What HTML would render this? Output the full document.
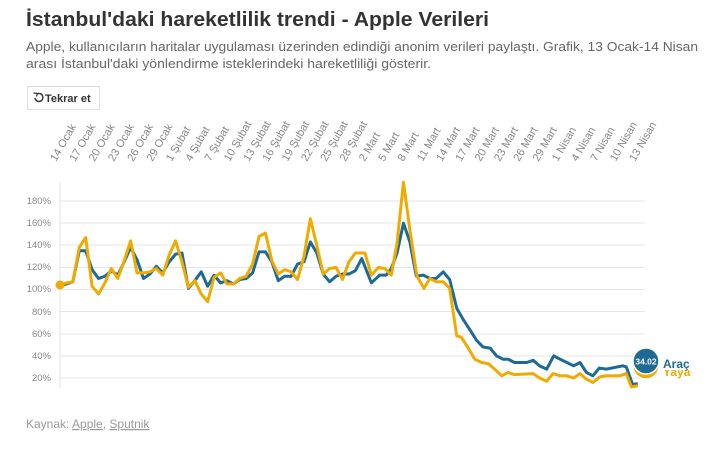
<!DOCTYPE html>
<html><head><meta charset="utf-8"><style>
html,body{margin:0;padding:0;background:#fff;}
svg{display:block;font-family:"Liberation Sans",sans-serif;}
</style></head><body>
<svg width="725" height="459" viewBox="0 0 725 459">
<text x="26" y="26" font-size="20" font-weight="bold" fill="#333" textLength="463" lengthAdjust="spacingAndGlyphs">İstanbul'daki hareketlilik trendi - Apple Verileri</text>
<text x="26" y="51" font-size="13" fill="#666" textLength="672" lengthAdjust="spacingAndGlyphs">Apple, kullanıcıların haritalar uygulaması üzerinden edindiği anonim verileri paylaştı. Grafik, 13 Ocak-14 Nisan</text>
<text x="26" y="68" font-size="13" fill="#666" textLength="405" lengthAdjust="spacingAndGlyphs">arası İstanbul'daki yönlendirme isteklerindeki hareketliliği gösterir.</text>
<rect x="27.5" y="86.5" width="72" height="23" fill="#fff" stroke="#ddd"/>
<path d="M37 94 A4 4 0 1 1 35 98" fill="none" stroke="#333" stroke-width="1.4"/>
<path d="M33.5 93 L37.5 93.5 L36.5 96.5" fill="none" stroke="#333" stroke-width="1.2"/>
<text x="45" y="102" font-size="11" font-weight="bold" fill="#333">Tekrar et</text>

<g stroke="#e6e6e6" stroke-width="1">
<line x1="60" x2="645" y1="201" y2="201"/><line x1="60" x2="645" y1="223" y2="223"/>
<line x1="60" x2="645" y1="245" y2="245"/><line x1="60" x2="645" y1="267.5" y2="267.5"/>
<line x1="60" x2="645" y1="289.5" y2="289.5"/><line x1="60" x2="645" y1="311.5" y2="311.5"/>
<line x1="60" x2="645" y1="334" y2="334"/><line x1="60" x2="645" y1="356" y2="356"/>
<line x1="60" x2="645" y1="378" y2="378"/>
<line x1="60" x2="60" y1="182" y2="388"/>
</g>
<g font-size="9.5" fill="#888" text-anchor="end">
<text x="51" y="204">180%</text><text x="51" y="226">160%</text><text x="51" y="248">140%</text>
<text x="51" y="270">120%</text><text x="51" y="292">100%</text><text x="51" y="315">80%</text>
<text x="51" y="337">60%</text><text x="51" y="359">40%</text><text x="51" y="381">20%</text>
</g>
<g font-size="11" fill="#888">
<text transform="translate(56,162) rotate(-60)">14 Ocak</text>
<text transform="translate(75.3,162) rotate(-60)">17 Ocak</text>
<text transform="translate(94.6,162) rotate(-60)">20 Ocak</text>
<text transform="translate(113.9,162) rotate(-60)">23 Ocak</text>
<text transform="translate(133.2,162) rotate(-60)">26 Ocak</text>
<text transform="translate(152.5,162) rotate(-60)">29 Ocak</text>
<text transform="translate(171.8,162) rotate(-60)">1 Şubat</text>
<text transform="translate(191.1,162) rotate(-60)">4 Şubat</text>
<text transform="translate(210.4,162) rotate(-60)">7 Şubat</text>
<text transform="translate(229.7,162) rotate(-60)">10 Şubat</text>
<text transform="translate(249,162) rotate(-60)">13 Şubat</text>
<text transform="translate(268.3,162) rotate(-60)">16 Şubat</text>
<text transform="translate(287.6,162) rotate(-60)">19 Şubat</text>
<text transform="translate(306.9,162) rotate(-60)">22 Şubat</text>
<text transform="translate(326.2,162) rotate(-60)">25 Şubat</text>
<text transform="translate(345.5,162) rotate(-60)">28 Şubat</text>
<text transform="translate(364.8,162) rotate(-60)">2 Mart</text>
<text transform="translate(384.1,162) rotate(-60)">5 Mart</text>
<text transform="translate(403.4,162) rotate(-60)">8 Mart</text>
<text transform="translate(422.7,162) rotate(-60)">11 Mart</text>
<text transform="translate(442,162) rotate(-60)">14 Mart</text>
<text transform="translate(461.3,162) rotate(-60)">17 Mart</text>
<text transform="translate(480.6,162) rotate(-60)">20 Mart</text>
<text transform="translate(499.9,162) rotate(-60)">23 Mart</text>
<text transform="translate(519.2,162) rotate(-60)">26 Mart</text>
<text transform="translate(538.5,162) rotate(-60)">29 Mart</text>
<text transform="translate(557.8,162) rotate(-60)">1 Nisan</text>
<text transform="translate(577.1,162) rotate(-60)">4 Nisan</text>
<text transform="translate(596.4,162) rotate(-60)">7 Nisan</text>
<text transform="translate(615.7,162) rotate(-60)">10 Nisan</text>
<text transform="translate(635,162) rotate(-60)">13 Nisan</text>
</g>

<g transform="translate(60,378) scale(6.42,-1.106) translate(0,-20)" fill="none" stroke-linejoin="round">
<polyline stroke="#1d6a97" stroke-width="3" vector-effect="non-scaling-stroke" points="0,103 1,105 2,107 3,135 4,135 5,118 6,110 7,112 8,117 9,113 10,125 11,138 12,127 13,110 14,114 15,121 16,115 17,125 18,132 19,133 20,101 21,108 22,116 23,103 24,113 25,106 26,108 27,105 28,109 29,110 30,115 31,134 32,134 33,125 34,108 35,112 36,112 37,123 38,125 39,143 40,133 41,114 42,107 43,112 44,114 45,114 46,117 47,128 48.5,106 49.8,113 50.8,113 51.6,119 52.5,133 53.5,160 54.5,143 55.5,112 56.6,113 57.6,110 58.6,110 59.7,116 60.7,109 61.8,83 62.8,73 63.8,64 64.9,54 65.9,48 67,47 68,40 69,37 69.8,37 70.8,34 72.7,34 73.7,36 74.7,31 75.8,28 76.9,40 77.9,37 80,31 81,34 82,25 83,22 84,29 85.1,28 87.7,31 88.2,30 89.2,14 90,15"/>
<polyline stroke="#f0ab00" stroke-width="3" vector-effect="non-scaling-stroke" points="0,104 1,106 2,107 3,138 4,147 5,103 6,96 7,106 8,119 9,110 10,126 11,144 12,115 13,115 14,116 15,119 16,113 17,131 18,144 19,125 20,102 21,108 22,96 23,89 24,111 25,115 26,105 27,105 28,110 29,112 30,123 31,148 32,151 33,126 34,114 35,118 36,116 37,109 38,130 39,164 40,140 41,114 42,119 43,120 44,109 45,125 46,133 47.5,133 48.5,113 49.6,120 50.6,119 51.6,113 52.5,142 53.5,197 54.5,154 55.6,112 56.7,101 57.6,110 58.6,107 59.7,107 60.7,101 61.8,58 62.5,57 63.6,47 64.6,37 65.7,34 66.7,33 67.7,28 68.8,22 69.8,25 70.8,23 73.7,24 74.7,20 75.8,17 76.8,24 77.9,22 78.9,22 80,20 81,24 82,19 83,16 84.1,21 85.1,22 87.2,22 88.2,24 89,12 90,13"/>
</g>
<circle cx="60" cy="285" r="4.5" fill="#f0ab00"/>
<circle cx="646" cy="366" r="13" fill="#f0ab00" stroke="#fff" stroke-width="1.5"/>
<circle cx="646" cy="361" r="13" fill="#1d6a97" stroke="#fff" stroke-width="1.5"/>
<text x="646" y="364.5" font-size="8.5" font-weight="bold" fill="#fff" text-anchor="middle">34.02</text>
<text x="663" y="376" font-size="12" font-weight="bold" fill="#f0ab00">Yaya</text>
<rect x="662" y="358" width="40" height="12" fill="#fff"/>
<text x="663" y="368" font-size="12" font-weight="bold" fill="#1d6a97">Araç</text>

<text x="26" y="428" font-size="12" fill="#999">Kaynak: <tspan text-decoration="underline">Apple</tspan>, <tspan text-decoration="underline">Sputnik</tspan></text>
</svg>
</body></html>
